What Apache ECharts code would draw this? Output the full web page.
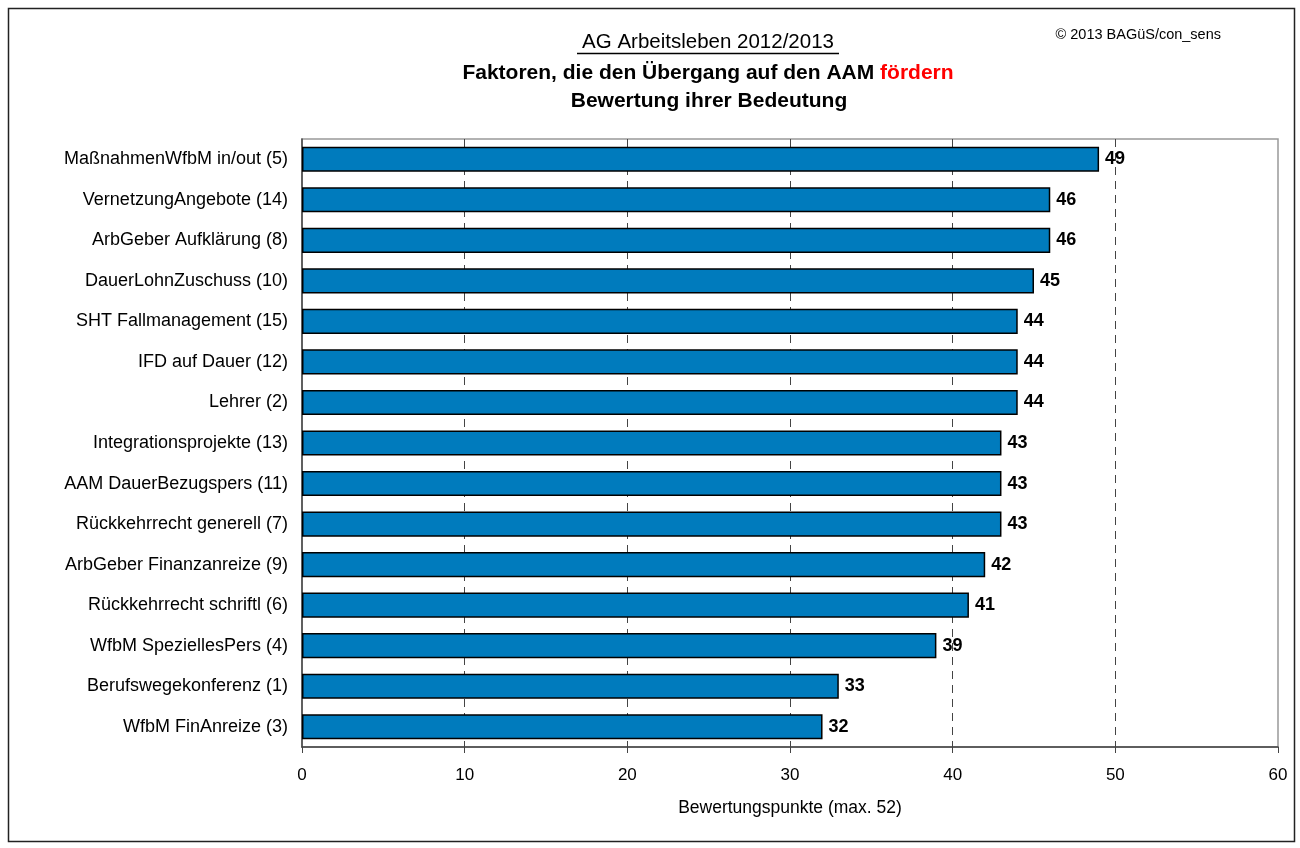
<!DOCTYPE html>
<html>
<head>
<meta charset="utf-8">
<script src="https://cdn.jsdelivr.net/npm/echarts@6/dist/echarts.min.js"></script>
<style>
  html, body { margin: 0; padding: 0; background: #fff; }
  #chart { width: 1300px; height: 848px; }
</style>
</head>
<body>
<div id="chart"></div>
<script>
// Kategorien von oben nach unten
const categories = [
  'MaßnahmenWfbM in/out (5)',
  'VernetzungAngebote (14)',
  'ArbGeber Aufklärung (8)',
  'DauerLohnZuschuss (10)',
  'SHT Fallmanagement (15)',
  'IFD auf Dauer (12)',
  'Lehrer (2)',
  'Integrationsprojekte (13)',
  'AAM DauerBezugspers (11)',
  'Rückkehrrecht generell (7)',
  'ArbGeber Finanzanreize (9)',
  'Rückkehrrecht schriftl (6)',
  'WfbM SpeziellesPers (4)',
  'Berufswegekonferenz (1)',
  'WfbM FinAnreize (3)'
]
// Bewertungspunkte
const points = [49, 46, 46, 45, 44, 44, 44, 43, 43, 43, 42, 41, 39, 33, 32]
const xTicks = { min: 0, max: 60, interval: 10 }

const ff = 'Liberation Sans'
const chart = echarts.init(document.getElementById('chart'))

chart.setOption({
  animation: false,
  textStyle: { fontFamily: ff },
  graphic: [
    // Rahmen
    { type: 'rect', shape: { x: 8.5, y: 8.5, width: 1286, height: 833 },
      style: { fill: 'none', stroke: '#222', lineWidth: 1.5 } },
    { type: 'text', x: 1221, y: 35,
      style: { text: '© 2013 BAGüS/con_sens', fontFamily: ff, fontSize: 14.5, fill: '#000',
        align: 'right', verticalAlign: 'middle' } },
    { type: 'text', x: 708, y: 42,
      style: { text: 'AG Arbeitsleben 2012/2013', fontFamily: ff, fontSize: 20.5, fill: '#000',
        align: 'center', verticalAlign: 'middle' } },
    // Unterstreichung
    { type: 'line', shape: { x1: 577, y1: 53.5, x2: 839, y2: 53.5 },
      style: { stroke: '#000', lineWidth: 1.5 } },
    { type: 'text', x: 708, y: 73,
      style: { text: '{b|Faktoren, die den Übergang auf den AAM }{r|fördern}',
        align: 'center', verticalAlign: 'middle',
        rich: {
          b: { fontFamily: ff, fontSize: 21, fontWeight: 'bold', fill: '#000' },
          r: { fontFamily: ff, fontSize: 21, fontWeight: 'bold', fill: '#f00' }
        } } },
    { type: 'text', x: 709, y: 101,
      style: { text: 'Bewertung ihrer Bedeutung', fontFamily: ff, fontSize: 21, fontWeight: 'bold',
        fill: '#000', align: 'center', verticalAlign: 'middle' } }
  ],
  grid: {
    left: 302, right: 22, top: 139, bottom: 101,
    show: true, borderColor: '#999', borderWidth: 1.5
  },
  xAxis: {
    type: 'value',
    min: xTicks.min, max: xTicks.max, interval: xTicks.interval,
    name: 'Bewertungspunkte (max. 52)',
    nameLocation: 'middle', nameGap: 52,
    nameTextStyle: { fontSize: 17.5, color: '#000' },
    axisLine: { show: true, lineStyle: { color: '#444', width: 1.5 } },
    axisTick: { show: true, length: 6, lineStyle: { color: '#444' } },
    axisLabel: { fontSize: 17, color: '#000', margin: 20 },
    splitLine: {
      show: true, showMinLine: false, showMaxLine: false,
      lineStyle: { color: '#444', type: [8, 6], width: 1 }
    }
  },
  yAxis: {
    type: 'category',
    data: categories,
    inverse: true,
    axisLine: { lineStyle: { color: '#444', width: 1.5 } },
    axisTick: { length: 6, lineStyle: { color: '#444' } },
    axisLabel: { fontSize: 18, color: '#000', margin: 14 }
  },
  series: [{
    type: 'bar',
    data: points,
    barWidth: '62%',
    itemStyle: { color: '#007bbd', borderColor: '#000', borderWidth: 1.5 },
    label: {
      show: true, position: 'right', distance: 6,
      fontSize: 18, fontWeight: 'bold', color: '#000'
    }
  }]
})
</script>
</body>
</html>
